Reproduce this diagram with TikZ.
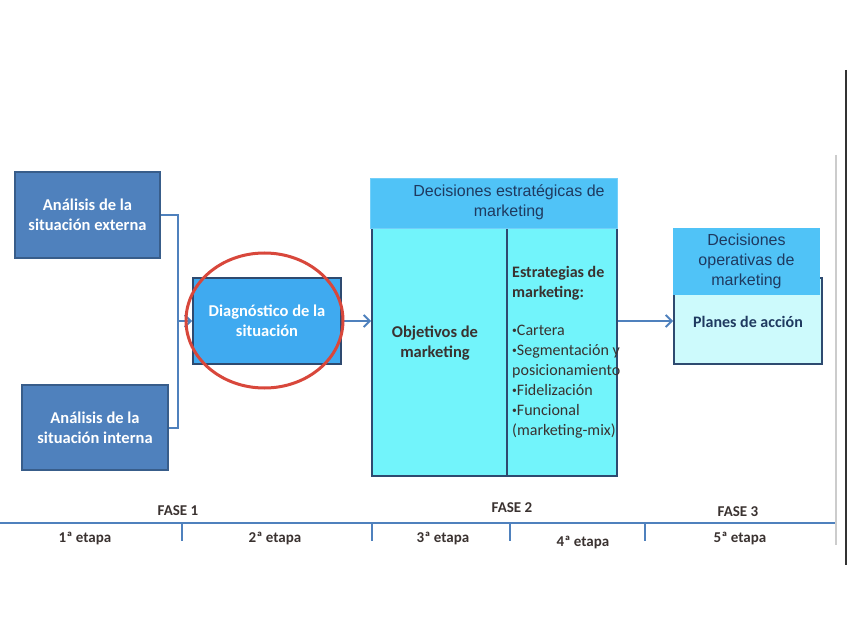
\documentclass[tikz,border=0pt]{standalone}
\usepackage{fontspec}
\setmainfont{Carlito}
\newfontfamily\arialfont{Liberation Sans}
\usetikzlibrary{shapes,arrows.meta,positioning,calc}
\definecolor{boxblue}{HTML}{4F81BD}
\definecolor{boxline}{HTML}{385D8A}
\definecolor{diagblue}{HTML}{3FAAF0}
\definecolor{headblue}{HTML}{50C3F7}
\definecolor{bodycyan}{HTML}{72F4FB}
\definecolor{palecyan}{HTML}{CDFAFC}
\definecolor{frameline}{HTML}{2E4A70}
\definecolor{navy}{HTML}{1F3A60}
\definecolor{darktext}{HTML}{3A3230}
\definecolor{ringred}{HTML}{D8473B}
\newcommand{\bul}{\raisebox{1.5pt}{\scalebox{0.6}{•}}}
\tikzset{
    anbox/.style={draw=boxline, fill=boxblue, line width=2pt, text=white, align=center,
        font=\bfseries\fontsize{16.5}{20}\selectfont},
    headbox/.style={fill=headblue, draw=headblue!80!white, line width=0.6pt, text=navy, align=center,
        font=\arialfont\fontsize{16}{20}\selectfont},
    bodybox/.style={fill=bodycyan, draw=frameline, line width=2pt},
    conn/.style={draw=boxblue, line width=2pt},
    arr/.style={conn, -{Straight Barb[length=6pt,width=12pt,line width=1.8pt]}},
    phase/.style={text=darktext, font=\bfseries\fontsize{15}{18}\selectfont}
}

\begin{document}
\begin{tikzpicture}[x=1pt, y=-1pt]
    \useasboundingbox (0,0) rectangle (848,636);

    % Analysis boxes
    \node[anbox, minimum width=145pt, minimum height=86pt] (ext) at (87.5,215) {Análisis de la\\situación externa};
    \node[anbox, minimum width=146pt, minimum height=85pt] (int) at (95,427.5) {Análisis de la\\situación interna};
    \node[anbox, fill=diagblue, draw=frameline, minimum width=148pt, minimum height=86pt] (diag) at (267,321) {Diagnóstico de la\\situación};
    \coordinate (join) at (178,321);
    \draw[conn] (ext.east) -| (join);
    \draw[conn] (int.east) -| (join);
    \draw[arr] (join) -- (diag.west);

    % Strategic decisions
    \node[bodybox, minimum width=135pt, minimum height=248pt] (obj) at (439.5,352) {};
    \node[bodybox, minimum width=110pt, minimum height=248pt] (estr) at (562,352) {};
    \node[align=center, text=darktext, font=\bfseries\fontsize{16.5}{20}\selectfont] (objtxt) at (435,343) {Objetivos de\\marketing};
    \node[anchor=west, inner sep=0pt, align=left, text=darktext, font=\fontsize{16}{20}\selectfont] (estrtxt) at ([xshift=6pt]estr.west)
        {\textbf{Estrategias de}\\\textbf{marketing:}\\[18pt]\bul Cartera\\\bul Segmentación y\\posicionamiento\\\bul Fidelización\\\bul Funcional\\(marketing-mix)};
    \node[headbox, minimum width=247pt, minimum height=50pt] (strat) at (494,203) {};
    \node[headbox, draw=none, fill=none] (strattxt) at (509,202) {Decisiones estratégicas de\\marketing};
    \draw[arr] (diag.east) -- (diag.east -| obj.west);

    % Operative decisions
    \node[bodybox, fill=palecyan, minimum width=148pt, minimum height=86pt] (plan) at (748,321) {};
    \node[headbox, draw=none, minimum width=147pt, minimum height=67pt] (oper) at (746.5,261.5) {Decisiones\\operativas de\\marketing};
    \node[text=navy, font=\bfseries\fontsize{16}{20}\selectfont] (plantxt) at (748,322) {Planes de acción};
    \draw[arr] (plan.west -| estr.east) -- (plan.west);

    % Timeline
    \coordinate (tl0) at (0,523);
    \coordinate (tl1) at (835,523);
    \draw[conn, line width=2.2pt] (tl0) -- (tl1);
    \foreach \tx in {182,372,510,645}
        \draw[conn, line width=1.6pt] (\tx,523) -- (\tx,541);
    \node[phase] (f1) at (178,511) {FASE 1};
    \node[phase] (f2) at (512,508) {FASE 2};
    \node[phase] (f3) at (738,512) {FASE 3};
    \node[phase] (e1) at (85,538) {1ª etapa};
    \node[phase] (e2) at (275,538) {2ª etapa};
    \node[phase] (e3) at (443,538) {3ª etapa};
    \node[phase] (e4) at (583,542) {4ª etapa};
    \node[phase] (e5) at (740,538) {5ª etapa};

    % Frame edges
    \draw[gray!40, line width=1.2pt] (836,155) -- (836,545);
    \draw[black!80, line width=1.4pt] (846,70) -- (846,565);

    % Highlight
    \draw[ringred, line width=3pt] (264.5,320.5) ellipse [x radius=78.5pt, y radius=67.5pt];
\end{tikzpicture}
\end{document}
